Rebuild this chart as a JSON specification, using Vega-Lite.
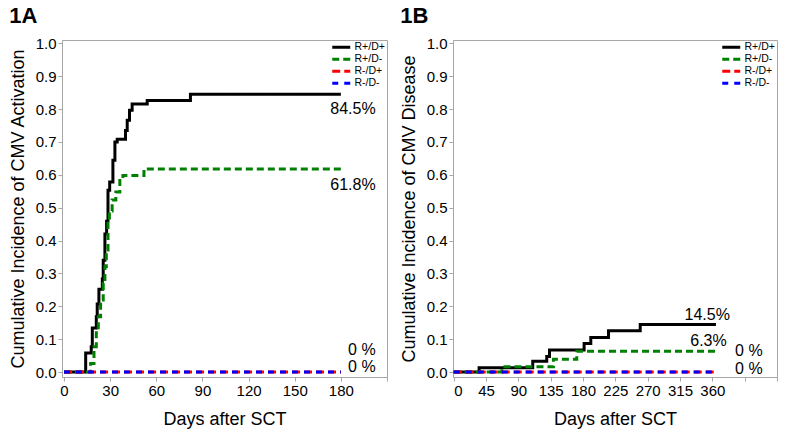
{
  "$schema": "https://vega.github.io/schema/vega-lite/v6.json",
  "padding": {"left": 8, "top": 4, "right": 5, "bottom": 5},
  "spacing": 11,
  "config": {
    "font": "Liberation Sans",
    "view": {"stroke": "#a6a6a6"},
    "axis": {"domainColor": "#a6a6a6", "tickColor": "#a6a6a6", "grid": false, "labelFontSize": 15, "labelColor": "black", "titleFontSize": 18, "titleFontWeight": "normal", "titleColor": "black", "labelFont": "Liberation Sans", "titleFont": "Liberation Sans", "tickSize": 4, "labelPadding": 2, "labelOverlap": false},
    "title": {"fontSize": 22, "fontWeight": "bold", "anchor": "start", "frame": "bounds", "color": "black", "font": "Liberation Sans"},
    "legend": {"title": null, "orient": "top-right", "offset": 2, "padding": 0, "symbolType": "M-3,0H3", "symbolStrokeWidth": 3, "symbolSize": 36, "labelFontSize": 10.5, "labelColor": "black", "rowPadding": -2, "labelOffset": 8, "symbolFillColor": "transparent"}
  },
  "datasets": {
    "curvesA": [
      {"group": "R+/D+", "day": 0, "cuminc": 0},
      {"group": "R+/D+", "day": 14.1, "cuminc": 0.058},
      {"group": "R+/D+", "day": 17.7, "cuminc": 0.077},
      {"group": "R+/D+", "day": 18.4, "cuminc": 0.134},
      {"group": "R+/D+", "day": 21.0, "cuminc": 0.168},
      {"group": "R+/D+", "day": 21.6, "cuminc": 0.207},
      {"group": "R+/D+", "day": 22.7, "cuminc": 0.252},
      {"group": "R+/D+", "day": 24.9, "cuminc": 0.283},
      {"group": "R+/D+", "day": 25.5, "cuminc": 0.34},
      {"group": "R+/D+", "day": 26.6, "cuminc": 0.42},
      {"group": "R+/D+", "day": 27.7, "cuminc": 0.459},
      {"group": "R+/D+", "day": 28.6, "cuminc": 0.553},
      {"group": "R+/D+", "day": 29.7, "cuminc": 0.578},
      {"group": "R+/D+", "day": 31.8, "cuminc": 0.644},
      {"group": "R+/D+", "day": 33.1, "cuminc": 0.70},
      {"group": "R+/D+", "day": 34.6, "cuminc": 0.708},
      {"group": "R+/D+", "day": 40.0, "cuminc": 0.735},
      {"group": "R+/D+", "day": 41.1, "cuminc": 0.766},
      {"group": "R+/D+", "day": 42.6, "cuminc": 0.796},
      {"group": "R+/D+", "day": 44.3, "cuminc": 0.815},
      {"group": "R+/D+", "day": 54.1, "cuminc": 0.826},
      {"group": "R+/D+", "day": 82.2, "cuminc": 0.845},
      {"group": "R+/D+", "day": 180, "cuminc": 0.845},
      {"group": "R+/D-", "day": 0, "cuminc": 0},
      {"group": "R+/D-", "day": 17.3, "cuminc": 0.026},
      {"group": "R+/D-", "day": 19.5, "cuminc": 0.077},
      {"group": "R+/D-", "day": 21.0, "cuminc": 0.128},
      {"group": "R+/D-", "day": 22.3, "cuminc": 0.168},
      {"group": "R+/D-", "day": 23.8, "cuminc": 0.219},
      {"group": "R+/D-", "day": 25.5, "cuminc": 0.27},
      {"group": "R+/D-", "day": 26.6, "cuminc": 0.32},
      {"group": "R+/D-", "day": 27.5, "cuminc": 0.371},
      {"group": "R+/D-", "day": 28.6, "cuminc": 0.453},
      {"group": "R+/D-", "day": 29.5, "cuminc": 0.49},
      {"group": "R+/D-", "day": 31.3, "cuminc": 0.523},
      {"group": "R+/D-", "day": 33.7, "cuminc": 0.548},
      {"group": "R+/D-", "day": 36.3, "cuminc": 0.589},
      {"group": "R+/D-", "day": 38.3, "cuminc": 0.598},
      {"group": "R+/D-", "day": 52.0, "cuminc": 0.618},
      {"group": "R+/D-", "day": 180, "cuminc": 0.618},
      {"group": "R-/D+", "day": 0, "cuminc": 0},
      {"group": "R-/D+", "day": 180, "cuminc": 0},
      {"group": "R-/D-", "day": 0, "cuminc": 0},
      {"group": "R-/D-", "day": 180, "cuminc": 0}
    ],
    "labelsA": [
      {"label": "84.5%", "day": 202.6, "cuminc": 0.80},
      {"label": "61.8%", "day": 202.6, "cuminc": 0.568},
      {"label": "0 %", "day": 202.6, "cuminc": 0.067},
      {"label": "0 %", "day": 202.6, "cuminc": 0.015}
    ],
    "curvesB": [
      {"group": "R+/D+", "day": 0, "cuminc": 0},
      {"group": "R+/D+", "day": 35.3, "cuminc": 0.013},
      {"group": "R+/D+", "day": 110, "cuminc": 0.033},
      {"group": "R+/D+", "day": 129.5, "cuminc": 0.047},
      {"group": "R+/D+", "day": 133.3, "cuminc": 0.067},
      {"group": "R+/D+", "day": 181.5, "cuminc": 0.087},
      {"group": "R+/D+", "day": 190.8, "cuminc": 0.105},
      {"group": "R+/D+", "day": 215.5, "cuminc": 0.126},
      {"group": "R+/D+", "day": 259.6, "cuminc": 0.145},
      {"group": "R+/D+", "day": 365, "cuminc": 0.145},
      {"group": "R+/D-", "day": 0, "cuminc": 0},
      {"group": "R+/D-", "day": 67, "cuminc": 0.016},
      {"group": "R+/D-", "day": 138.8, "cuminc": 0.039},
      {"group": "R+/D-", "day": 171.3, "cuminc": 0.063},
      {"group": "R+/D-", "day": 365, "cuminc": 0.063},
      {"group": "R-/D+", "day": 0, "cuminc": 0},
      {"group": "R-/D+", "day": 365, "cuminc": 0},
      {"group": "R-/D-", "day": 0, "cuminc": 0},
      {"group": "R-/D-", "day": 365, "cuminc": 0}
    ],
    "labelsB": [
      {"label": "14.5%", "day": 384.5, "cuminc": 0.173},
      {"label": "6.3%", "day": 380, "cuminc": 0.093},
      {"label": "0 %", "day": 430, "cuminc": 0.063},
      {"label": "0 %", "day": 430, "cuminc": 0.009}
    ]
  },
  "hconcat": [
    {
      "title": {"text": "1A", "offset": 8},
      "width": 325,
      "height": 337,
      "layer": [
        {
          "data": {"name": "curvesA"},
          "mark": {"type": "line", "interpolate": "step-after", "strokeWidth": 3, "strokeCap": "butt"},
          "encoding": {
            "x": {"field": "day", "type": "quantitative", "scale": {"domain": [-1.3, 210], "nice": false, "zero": false},
              "axis": {"values": [0, 30, 60, 90, 120, 150, 180, 210], "tickCount": 30, "labelExpr": "datum.value > 180 ? '' : datum.label", "title": "Days after SCT", "titlePadding": 12, "labelOverlap": false}},
            "y": {"field": "cuminc", "type": "quantitative", "scale": {"domain": [-0.015, 1.01], "nice": false, "zero": false},
              "axis": {"values": [0, 0.1, 0.2, 0.3, 0.4, 0.5, 0.6, 0.7, 0.8, 0.9, 1.0], "tickCount": 30, "format": ".1f", "title": "Cumulative Incidence of CMV Activation", "titlePadding": 8, "labelOverlap": false}},
            "color": {"field": "group", "type": "nominal",
              "scale": {"domain": ["R+/D+", "R+/D-", "R-/D+", "R-/D-"], "range": ["#000000", "#008000", "#ff0000", "#0000ff"]}},
            "strokeDash": {"field": "group", "type": "nominal",
              "scale": {"domain": ["R+/D+", "R+/D-", "R-/D+", "R-/D-"], "range": [[1, 0], [7, 4], [8, 4], [6, 6]]}}
          }
        },
        {
          "data": {"name": "labelsA"},
          "mark": {"type": "text", "align": "right", "baseline": "middle", "fontSize": 16, "font": "Liberation Sans", "color": "black"},
          "encoding": {
            "x": {"field": "day", "type": "quantitative"},
            "y": {"field": "cuminc", "type": "quantitative"},
            "text": {"field": "label", "type": "nominal"}
          }
        }
      ]
    },
    {
      "title": {"text": "1B", "offset": 8},
      "width": 324,
      "height": 337,
      "layer": [
        {
          "data": {"name": "curvesB"},
          "mark": {"type": "line", "interpolate": "step-after", "strokeWidth": 3, "strokeCap": "butt"},
          "encoding": {
            "x": {"field": "day", "type": "quantitative", "scale": {"domain": [-1, 450], "nice": false, "zero": false},
              "axis": {"values": [0, 45, 90, 135, 180, 225, 270, 315, 360, 405, 450], "tickCount": 30, "labelExpr": "datum.value > 360 ? '' : datum.label", "title": "Days after SCT", "titlePadding": 12, "labelOverlap": false}},
            "y": {"field": "cuminc", "type": "quantitative", "scale": {"domain": [-0.015, 1.01], "nice": false, "zero": false},
              "axis": {"values": [0, 0.1, 0.2, 0.3, 0.4, 0.5, 0.6, 0.7, 0.8, 0.9, 1.0], "tickCount": 30, "format": ".1f", "title": "Cumulative Incidence of CMV Disease", "titlePadding": 8, "labelOverlap": false}},
            "color": {"field": "group", "type": "nominal",
              "scale": {"domain": ["R+/D+", "R+/D-", "R-/D+", "R-/D-"], "range": ["#000000", "#008000", "#ff0000", "#0000ff"]}},
            "strokeDash": {"field": "group", "type": "nominal",
              "scale": {"domain": ["R+/D+", "R+/D-", "R-/D+", "R-/D-"], "range": [[1, 0], [7, 4], [8, 4], [6, 6]]}}
          }
        },
        {
          "data": {"name": "labelsB"},
          "mark": {"type": "text", "align": "right", "baseline": "middle", "fontSize": 16, "font": "Liberation Sans", "color": "black"},
          "encoding": {
            "x": {"field": "day", "type": "quantitative"},
            "y": {"field": "cuminc", "type": "quantitative"},
            "text": {"field": "label", "type": "nominal"}
          }
        }
      ]
    }
  ],
  "resolve": {"scale": {"color": "independent", "strokeDash": "independent"}}
}
